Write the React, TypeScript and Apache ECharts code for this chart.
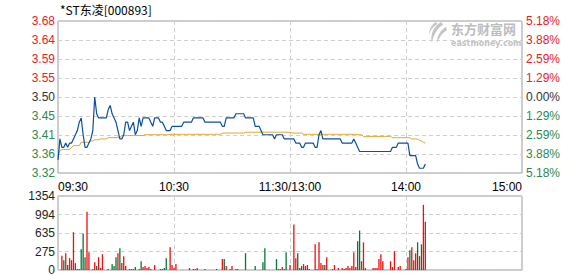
import React, { useEffect, useRef } from "react";
import * as echarts from "echarts";

const title = "*ST东凌[000893]";
const prevClose = 3.5;
const pctStep = 1.295;
const priceTicks = ["3.32", "3.36", "3.41", "3.45", "3.50", "3.55", "3.59", "3.64", "3.68"];
const pctTicks = ["5.18%", "3.88%", "2.59%", "1.29%", "0.00%", "1.29%", "2.59%", "3.88%", "5.18%"];
const timeLabels = ["09:30", "10:30", "11:30/13:00", "14:00", "15:00"];
const volTicks = ["0", "275", "635", "994", "1354"];
const volMax = 1354;
const totalSlots = 241;

const price = [
  3.35, 3.40, 3.38, 3.38, 3.39, 3.38, 3.39, 3.39, 3.40, 3.41,
  3.42, 3.44, 3.45, 3.41, 3.38, 3.38, 3.39, 3.40, 3.42, 3.50,
  3.46, 3.45, 3.45, 3.45, 3.45, 3.45, 3.47, 3.48, 3.46, 3.45,
  3.44, 3.42, 3.40, 3.40, 3.41, 3.44, 3.44, 3.42, 3.43, 3.44,
  3.41, 3.42, 3.45, 3.43, 3.45, 3.45, 3.45, 3.45, 3.44, 3.43,
  3.45, 3.45, 3.45, 3.44, 3.44, 3.43, 3.42, 3.42, 3.42, 3.43,
  3.43, 3.43, 3.43, 3.43, 3.43, 3.44, 3.44, 3.44, 3.44, 3.44,
  3.45, 3.45, 3.45, 3.45, 3.45, 3.45, 3.44, 3.44, 3.44, 3.44,
  3.44, 3.44, 3.44, 3.44, 3.44, 3.43, 3.43, 3.45, 3.45, 3.45,
  3.45, 3.45, 3.46, 3.46, 3.46, 3.46, 3.46, 3.45, 3.45, 3.45,
  3.45, 3.45, 3.43, 3.43, 3.43, 3.42, 3.41, 3.41, 3.41, 3.41,
  3.41, 3.41, 3.40, 3.41, 3.41, 3.41, 3.41, 3.40, 3.40, 3.40,
  3.40, 3.40, 3.40, 3.39, 3.39, 3.39, 3.38, 3.38, 3.39, 3.39,
  3.39, 3.39, 3.39, 3.38, 3.38, 3.41, 3.42, 3.40, 3.40, 3.40,
  3.40, 3.40, 3.40, 3.40, 3.40, 3.40, 3.40, 3.39, 3.39, 3.39,
  3.39, 3.39, 3.39, 3.40, 3.39, 3.38, 3.37, 3.37, 3.37, 3.37,
  3.37, 3.37, 3.37, 3.37, 3.37, 3.37, 3.37, 3.37, 3.37, 3.37,
  3.37, 3.37, 3.37, 3.38, 3.38, 3.38, 3.39, 3.39, 3.39, 3.39,
  3.39, 3.39, 3.36, 3.36, 3.36, 3.36, 3.34, 3.33, 3.33, 3.33,
  3.34,
];

const avgPrice = [
  3.360, 3.372, 3.375, 3.375, 3.375, 3.375, 3.375, 3.380, 3.384, 3.384,
  3.384, 3.384, 3.392, 3.392, 3.392, 3.392, 3.392, 3.395, 3.395, 3.398,
  3.398, 3.398, 3.400, 3.400, 3.400, 3.400, 3.403, 3.403, 3.403, 3.403,
  3.403, 3.404, 3.404, 3.408, 3.408, 3.408, 3.408, 3.408, 3.408, 3.408,
  3.408, 3.408, 3.408, 3.408, 3.408, 3.410, 3.410, 3.410, 3.410, 3.410,
  3.410, 3.410, 3.410, 3.410, 3.410, 3.410, 3.410, 3.410, 3.411, 3.411,
  3.411, 3.411, 3.411, 3.411, 3.411, 3.411, 3.411, 3.411, 3.411, 3.411,
  3.411, 3.411, 3.411, 3.411, 3.411, 3.411, 3.411, 3.411, 3.411, 3.411,
  3.411, 3.411, 3.411, 3.411, 3.411, 3.414, 3.414, 3.414, 3.414, 3.414,
  3.414, 3.414, 3.414, 3.414, 3.414, 3.414, 3.414, 3.416, 3.416, 3.416,
  3.416, 3.416, 3.416, 3.416, 3.416, 3.416, 3.416, 3.416, 3.416, 3.416,
  3.416, 3.416, 3.416, 3.416, 3.416, 3.416, 3.416, 3.416, 3.416, 3.416,
  3.416, 3.414, 3.414, 3.414, 3.414, 3.414, 3.414, 3.411, 3.411, 3.411,
  3.411, 3.411, 3.411, 3.411, 3.411, 3.411, 3.411, 3.411, 3.411, 3.411,
  3.411, 3.411, 3.411, 3.411, 3.411, 3.411, 3.411, 3.411, 3.411, 3.411,
  3.411, 3.411, 3.411, 3.411, 3.411, 3.410, 3.410, 3.410, 3.406, 3.406,
  3.406, 3.406, 3.406, 3.406, 3.406, 3.406, 3.406, 3.406, 3.406, 3.406,
  3.406, 3.406, 3.406, 3.403, 3.403, 3.403, 3.403, 3.403, 3.403, 3.403,
  3.403, 3.403, 3.403, 3.400, 3.400, 3.400, 3.399, 3.397, 3.395, 3.392,
  3.390,
];

const volMinute = [
  2, 3, 4, 5, 6, 7, 8, 9, 10, 11, 12, 13, 14, 15, 16, 18, 19, 20, 21, 22,
  23, 26, 28, 29, 30, 31, 32, 33, 34, 35, 37, 38, 39, 40, 42, 43, 44, 45, 46, 47,
  48, 50, 53, 54, 55, 56, 58, 59, 60, 61, 68, 70, 71, 72, 76, 82, 85, 86, 87, 89,
  90, 92, 93, 97, 102, 106, 107, 113, 114, 115, 116, 117, 118, 120, 122, 123, 124, 125, 126, 127,
  128, 129, 130, 133, 134, 135, 136, 137, 138, 139, 142, 143, 145, 147, 148, 149, 150, 151, 152, 153,
  154, 155, 156, 157, 158, 159, 163, 164, 165, 166, 167, 168, 172, 173, 174, 176, 177, 180, 181, 182,
  183, 184, 185, 186, 187, 188, 189, 190,
];
const volAmount = [
  259, 180, 307, 90, 217, 180, 692, 126, 18, 18, 379, 668, 235, 1066, 325, 18, 144, 72, 235, 36,
  289, 18, 108, 72, 235, 307, 397, 126, 253, 72, 18, 18, 18, 54, 18, 162, 54, 72, 36, 54,
  18, 90, 18, 18, 36, 217, 415, 90, 36, 108, 36, 18, 18, 36, 18, 18, 199, 199, 72, 18,
  72, 18, 18, 307, 72, 144, 397, 199, 18, 18, 54, 18, 325, 90, 831, 217, 307, 36, 72, 108,
  72, 90, 18, 470, 18, 506, 126, 90, 90, 235, 18, 90, 36, 36, 18, 36, 72, 36, 72, 325,
  54, 524, 722, 162, 506, 36, 36, 36, 36, 199, 289, 162, 162, 54, 343, 54, 72, 18, 235, 361,
  415, 180, 307, 506, 253, 470, 1192, 885,
];
const volUp = [
  1, 0, 1, 0, 1, 1, 1, 1, 1, 1, 0, 0, 0, 1, 1, 1, 1, 0, 1, 1,
  1, 1, 0, 0, 0, 1, 0, 1, 1, 1, 0, 1, 1, 0, 1, 0, 1, 1, 1, 1,
  0, 1, 0, 1, 0, 0, 1, 1, 1, 1, 1, 1, 1, 1, 0, 1, 1, 0, 1, 1,
  1, 1, 1, 0, 0, 0, 0, 0, 1, 1, 1, 1, 0, 1, 1, 1, 0, 1, 0, 1,
  1, 1, 1, 1, 0, 1, 1, 1, 0, 1, 1, 1, 1, 1, 1, 1, 1, 1, 1, 1,
  1, 0, 0, 1, 1, 1, 1, 1, 1, 1, 1, 1, 1, 1, 1, 1, 1, 1, 1, 0,
  1, 1, 1, 0, 1, 0, 1, 1,
];

const RED = "#e8211f";
const GREEN = "#2b8a4e";
const BAR_RED = "#ee0f0f";
const BAR_GREEN = "#067538";
const FONT = "Liberation Sans";

const logoPath =
  "M15 0 C8 4 3 12 5 22 C7 14 10 7 17 3 Z M20 5 C14 9 10 15 11 22 C13 16 16 11 21 9 Z M9 0 C5 3 2 8 2 14 C3 9 6 5 11 2 Z";
echarts.graphic.registerShape("emlogo", echarts.graphic.extendPath(logoPath, {}));

export default function App() {
  const ref = useRef<HTMLDivElement>(null);
  useEffect(() => {
    if (!ref.current) return;
    const chart = echarts.init(ref.current, null, { renderer: "svg" });
    const slots = Array.from({ length: totalSlots }, (_, i) => String(i));
    const toPct = (p: number) => ((p - prevClose) / prevClose) * 100;
    const pctMin = -4 * pctStep;
    const pctMax = 4 * pctStep;
    const tickIdx = (v: any) => Math.round((Number(v) - pctMin) / pctStep);
    const labelColor = (v: any) => {
      const n = Number(v);
      if (n > 0.01) return RED;
      if (n < -0.01) return GREEN;
      return "#333";
    };
    const showEvery60 = (i: number) => i % 60 === 0;
    const volStep = volMax / 4;

    chart.setOption({
      animation: false,
      graphic: [
        {
          type: "text",
          left: 60,
          top: 3,
          style: { text: title, fill: "#000", font: '12px "Noto Sans CJK SC"' },
        },
        {
          type: "emlogo",
          x: 427,
          y: 22,
          scaleX: 0.95,
          scaleY: 0.95,
          style: { fill: "#c4c4c4" },
          z: 0,
        },
        {
          type: "text",
          x: 451,
          y: 28.5,
          style: {
            text: "东方财富网",
            fill: "#bcbcbc",
            font: 'bold 13px "Noto Sans CJK SC"',
            verticalAlign: "middle",
            lineHeight: 13,
          },
          z: 0,
        },
        {
          type: "text",
          x: 451,
          y: 43,
          style: {
            text: "eastmoney.com",
            fill: "#c2c2c2",
            font: 'bold 8px "DejaVu Sans"',
            verticalAlign: "middle",
            lineHeight: 8,
          },
          z: 0,
        },
      ],
      grid: [
        { left: 58, top: 21, width: 464, height: 152, show: true, borderColor: "#9a9a9a", borderWidth: 1, backgroundColor: "transparent" },
        { left: 58, top: 196, width: 464, height: 75, show: true, borderColor: "#9a9a9a", borderWidth: 1, backgroundColor: "transparent" },
      ],
      xAxis: [
        {
          type: "category",
          gridIndex: 0,
          data: slots,
          boundaryGap: false,
          axisLine: { show: false },
          axisTick: { show: false },
          axisLabel: {
            interval: (i: number) => showEvery60(i),
            formatter: (_v: string, i: number) => timeLabels[Math.round(i / 60)] ?? "",
            color: "#000",
            fontFamily: FONT,
            fontSize: 12,
            margin: 8,
            alignMinLabel: "left",
            alignMaxLabel: "right",
            showMinLabel: true,
            showMaxLabel: true,
          },
          splitLine: {
            show: true,
            interval: (i: number) => showEvery60(i),
            lineStyle: { color: "#cfcfcf", type: [4, 3], width: 1 },
          },
        },
        {
          type: "category",
          gridIndex: 1,
          data: slots,
          boundaryGap: false,
          axisLine: { show: false },
          axisTick: { show: false },
          axisLabel: { show: false },
          splitLine: {
            show: true,
            interval: (i: number) => showEvery60(i),
            lineStyle: { color: "#cfcfcf", type: [4, 3], width: 1 },
          },
        },
      ],
      yAxis: [
        {
          type: "value",
          gridIndex: 0,
          min: pctMin,
          max: pctMax,
          interval: pctStep,
          axisLine: { show: false },
          axisTick: { show: false },
          axisLabel: {
            formatter: (v: number) => priceTicks[tickIdx(v)] ?? "",
            color: labelColor,
            fontFamily: FONT,
            fontSize: 12,
            margin: 3,
          },
          splitLine: { show: true, lineStyle: { color: "#cfcfcf", type: [4, 3], width: 1 } },
        },
        {
          type: "value",
          gridIndex: 0,
          position: "right",
          min: pctMin,
          max: pctMax,
          interval: pctStep,
          axisLine: { show: false },
          axisTick: { show: false },
          axisLabel: {
            formatter: (v: number) => pctTicks[tickIdx(v)] ?? "",
            color: labelColor,
            fontFamily: FONT,
            fontSize: 12,
            margin: 4,
          },
          splitLine: { show: false },
        },
        {
          type: "value",
          gridIndex: 1,
          min: 0,
          max: volMax,
          interval: volStep,
          axisLine: { show: false },
          axisTick: { show: false },
          axisLabel: {
            formatter: (v: number) => volTicks[Math.round(v / volStep)] ?? "",
            color: "#222",
            fontFamily: FONT,
            fontSize: 12,
            margin: 3,
          },
          splitLine: { show: true, lineStyle: { color: "#cfcfcf", type: [4, 3], width: 1 } },
        },
      ],
      series: [
        {
          type: "line",
          xAxisIndex: 0,
          yAxisIndex: 0,
          data: avgPrice.map(toPct),
          showSymbol: false,
          lineStyle: { color: "#e2a322", width: 1 },
          z: 3,
        },
        {
          type: "line",
          xAxisIndex: 0,
          yAxisIndex: 0,
          data: price.map(toPct),
          showSymbol: false,
          lineStyle: { color: "#0b4fa2", width: 1.2 },
          z: 4,
        },
        {
          type: "bar",
          xAxisIndex: 1,
          yAxisIndex: 2,
          barWidth: 1.3,
          data: volMinute.map((m, k) => ({
            value: [m, volAmount[k]],
            itemStyle: { color: volUp[k] ? BAR_RED : BAR_GREEN },
          })),
        },
      ],
    });
    return () => chart.dispose();
  }, []);
  return (
    <div
      ref={ref}
      style={{ position: "fixed", left: 0, top: 0, width: 578, height: 276, background: "#fff" }}
    />
  );
}
